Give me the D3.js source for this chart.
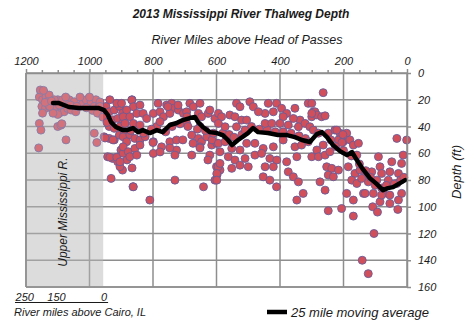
<!DOCTYPE html>
<html><head><meta charset="utf-8">
<script src="https://cdn.jsdelivr.net/npm/d3@7"></script>
<style>
body{margin:0;background:#fff;}
svg{display:block;font-family:"Liberation Sans",Arial,sans-serif;}
</style></head>
<body><svg id="c" width="474" height="335"></svg>
<script>
const xTicks = [1200,1000,800,600,400,200,0];
const xMinorTicks = [1150,1100,1050,950,900,850,750,700,650,550,500,450,350,300,250,150,100,50];
const yTicks = [0,20,40,60,80,100,120,140,160];
const cairoTicks = [250,150,0];
const cairoZeroMile = 954;
const upperMissRange = [1200,957];

// scatter points: [river mile above Head of Passes, thalweg depth ft]
const points = [
[1153,14],[1142,15],[1158,18],[1148,20],[1137,18],[1127,16.5],[1132,21.5],[1150,25],[1139,26.5],[1127,25],[1116,27.7],[1106,26.5],[1095,30],[1080,29],[1069,26.5],[1058,27.7],[1043,29],[1032,25],[1022,22.7],[1011,20],[995,21.5],[980,20],[985,25],[969,24],[964,27.7],[948,25],[1064,20],[1048,21.5],[1074,22.7],[1095,24],[1100,20],[1111,20],[1158,37.7],[1153,42.7],[1100,40],[1090,39],[1074,50],[1160,56],[985,45],[977,52],[1155,12.7],[1145,13],[1085,20],[1075,18],[1030,18],[1000,18],[967,21.7],[1100,31],[1087,38],[1115,30],[1125,25],[1148,30],[1140,22],[1120,21],[1060,24],[1040,25],[1010,26],[990,28],[975,30],
[938,29],[922,27.7],[906,25],[896,30],[943,34],[927,35],[911,34],[896,37.7],[938,40],[922,41.4],[954,47.7],[938,48.9],[922,50],[906,46.4],[890,45],[943,62.6],[927,63.9],[911,66.4],[932,78.8],[901,57.6],[896,72.6],[863,85],[810,95],[936,20],[914,22.7],[866,20],[967,25],[958,33],[945,37],[951,48.6],[926,50],[936,63],[914,63],[894,60],[882,65],[904,70],[866,71],
[899,22.7],[867,20.2],[862,25.2],[841,24],[883,27.7],[894,32.7],[873,32.7],[851,30.2],[831,30.2],[820,34],[799,30.2],[778,29],[757,24],[741,22.7],[736,26.4],[767,32.7],[747,30.2],[720,27.7],[704,30.2],[684,22.7],[673,25.2],[652,22.7],[657,30.2],[694,29],[647,32.7],[626,30.2],[605,34],[621,27.7],[594,30.2],
[904,40],[888,37.7],[862,37.7],[841,39],[788,40],[778,36.4],[694,37.7],[652,40],
[894,47.7],[873,46.4],[883,51.4],[857,48.9],[841,50.1],[894,55.2],[878,58.9],[857,56.4],[841,53.9],[825,47.7],[799,51.4],[773,55.2],[747,51.4],[726,50.1],[678,46.4],[657,48.9],[647,51.4],[631,47.7],[615,53.9],[599,52.6],[652,55.2],[678,61.4],[621,61.4],
[904,66.4],[873,62.6],[851,61.4],[799,60.1],[726,57.6],[731,80.1],[862,85.1],[641,85.1],[605,80.1],[589,72.6],[600,70],[598,76],
[784,22.7],[753,25.2],[721,24],[693,32.7],[800,52],[778,59],[747,56],[706,50],[674,52.6],[652,56],[731,61.4],[614,50],[627,65],[595,70],
[870,43],[830,45],[805,42],[760,44],[740,40],[715,38],[690,40],[660,42],[635,43],[610,45],
[580,45],[560,46],[545,48],[520,46],[490,40],[465,42],[440,42],[415,44],[390,44],[365,45],[340,47],[320,49],
[537,22.7],[526,25.2],[495,21.5],[484,25.2],[437,22.7],[411,22.7],[447,30.2],[468,29],[421,29],[395,26.4],[379,30.2],[353,26.4],[311,22.7],[295,29],[300,32.7],[337,35.2],[358,34],[390,32.7],[558,31.4],[584,32.7],[542,32.7],[521,35.2],[505,35.2],[594,37.7],
[447,37.7],[426,37.7],[400,37.7],[374,38.9],[342,40.2],[321,37.7],[573,40.2],[537,40.2],[510,42.7],
[594,52.6],[573,51.4],[552,56.4],[526,57.6],[505,52.6],[479,52.6],[453,56.4],[421,55.2],[390,50.1],[353,55.2],[332,53.9],[311,51.4],[589,58.9],[563,62.6],[542,65.1],[510,63.9],[479,61.4],[458,60.1],[432,63.9],[410,65.1],[379,66.4],[347,62.6],[589,67.6],[599,75.1],[552,71.3],[526,68.9],[500,70.1],[447,70.1],[421,70.1],[453,77.6],[432,80.1],[374,73.9],[358,77.6],[342,81.4],[411,85.1],[327,90],[599,80.1],[347,95],
[264,14.7],[300,22.7],[290,29],[284,31.4],[269,32.7],[258,32],[306,40.2],[295,42.7],[279,45],[248,45],[227,42.7],[211,45],[190,45],[216,50],[201,51.4],[180,50],[169,53.9],[153,52.6],[32,48.9],[1,50.1],[264,53.9],[284,57.6],[300,62.6],[279,62.6],[258,61.4],[243,58.9],[158,61.4],[90,62.6],[12,61.4],[48,66.4],[17,67.6],[253,70.1],[237,71.3],[216,72.6],[248,76.3],[232,77.6],[185,70.1],[164,75.1],[148,72.6],[132,75.1],[111,73.9],[85,70.1],[80,75.1],[54,73.9],[27,75.1],[174,80.1],[158,82.6],[122,81.4],[143,78.8],[95,80.1],[59,80.1],[32,82.6],[274,81.4],[258,87.6],[190,90],[137,90],[106,90],[74,90],[54,91.3],[17,90],[169,95],[206,101.3],[85,96.3],[27,95],[300,30.2],
[80,91.3],[54,97.5],[248,103],[169,107],[108,100],[93,104],[29,102],[104,120],[141,140],[122,150],[132,90],
[221,42.7],[202,46],[205,52],[240,50],[225,55],[200,58],[175,62],[150,68],[130,73],[115,78],[100,84],[80,86],[65,84],[40,83],[20,80],[10,78]
];

// 25 mile moving average
const avgMiles = [1115,1096,1065,1033,1002,970,954,942,932,917,895,882,863,847,832,810,788,769,747,725,706,684,668,658,643,621,599,580,564,551,532,501,485,469,438,406,378,353,331,306,284,268,252,233,211,189,173,158,139,117,95,76,60,44,22,6];
const avgDepths = [22.5,22.5,25.4,26.2,26.2,26.2,27.7,31.4,36.7,40.4,42.7,42.7,41.2,44.2,42.7,44.9,42.7,44.2,38.9,37.4,35.2,33.7,32.9,36.7,40.4,44.2,44.9,46.4,50.1,53.9,50.1,44.9,41.2,44.2,44.9,46.4,46.4,47.9,50.1,51.6,45.7,44.2,47.9,53.9,58.4,61.4,59.1,65.1,71.9,78.6,83.1,87.6,86.1,85.3,82.3,80.1];

const svg = d3.select("#c");
const x = d3.scaleLinear().domain([1200,0]).range([26,407]);
const y = d3.scaleLinear().domain([0,160]).range([73,287]);
const textCol = "#1a1a1a", gridCol = "#8e8e8e";

// shaded Upper Mississippi region
svg.append("rect")
  .attr("x", x(upperMissRange[0])).attr("y", y(0))
  .attr("width", x(upperMissRange[1]) - x(upperMissRange[0]))
  .attr("height", y(160) - y(0))
  .attr("fill", "#dcdcdc");

// grid
svg.append("g").selectAll("line").data(xTicks).join("line")
  .attr("x1", d => x(d)).attr("x2", d => x(d))
  .attr("y1", y(0)).attr("y2", y(160))
  .attr("stroke", gridCol).attr("stroke-width", 1.5);
svg.append("g").selectAll("line").data(yTicks).join("line")
  .attr("x1", x(1200)).attr("x2", x(0))
  .attr("y1", d => y(d)).attr("y2", d => y(d))
  .attr("stroke", gridCol).attr("stroke-width", 1.5);

// points
svg.append("g").selectAll("circle").data(points).join("circle")
  .attr("cx", d => x(d[0])).attr("cy", d => y(d[1])).attr("r", 4)
  .attr("fill", "#d04f5b").attr("stroke", "#6a5c98").attr("stroke-width", 0.9);

// fade points in shaded region slightly
svg.append("rect")
  .attr("x", x(upperMissRange[0])).attr("y", y(0))
  .attr("width", x(upperMissRange[1]) - x(upperMissRange[0]))
  .attr("height", y(160) - y(0))
  .attr("fill", "#dcdcdc").attr("opacity", 0.25);

// moving average
const avgData = avgMiles.map((m,i) => [m, avgDepths[i]]);
svg.append("path").datum(avgData)
  .attr("d", d3.line().x(d => x(d[0])).y(d => y(d[1])))
  .attr("fill", "none").attr("stroke", "#000").attr("stroke-width", 4.5)
  .attr("stroke-linejoin", "round").attr("stroke-linecap", "round");

// top axis
svg.append("g").attr("transform", `translate(0,${y(0)})`)
  .call(d3.axisTop(x).tickValues(xTicks).tickFormat(d3.format("d")).tickSize(4).tickSizeOuter(0).tickPadding(4));
svg.append("g").attr("transform", `translate(0,${y(0)})`)
  .call(d3.axisTop(x).tickValues(xMinorTicks).tickSize(3).tickSizeOuter(0).tickFormat(""))
  .call(g => g.select(".domain").remove());
// right axis
svg.append("g").attr("transform", `translate(${x(0)},0)`)
  .call(d3.axisRight(y).tickValues(yTicks).tickFormat(d3.format("d")).tickSize(4).tickSizeOuter(0).tickPadding(7));
svg.selectAll(".tick line, .domain").attr("stroke", gridCol).attr("stroke-width", 1.5);
svg.selectAll(".tick text").attr("fill", textCol).style("font-size", "11px")
  .style("font-style", "italic").style("font-family", '"Liberation Sans",Arial,sans-serif');

// left & bottom frame
svg.append("line").attr("x1", x(1200)).attr("x2", x(1200)).attr("y1", y(0)).attr("y2", y(160))
  .attr("stroke", gridCol).attr("stroke-width", 1.5);
svg.append("line").attr("x1", x(1200)).attr("x2", x(0)).attr("y1", y(160)).attr("y2", y(160))
  .attr("stroke", gridCol).attr("stroke-width", 1.5);

// titles
svg.append("text").attr("x", 241).attr("y", 18).attr("text-anchor", "middle")
  .style("font-size", "12px").style("font-weight", "bold").style("font-style", "italic")
  .attr("fill", textCol).text("2013 Mississippi River Thalweg Depth");
svg.append("text").attr("x", 247).attr("y", 44).attr("text-anchor", "middle")
  .style("font-size", "12.5px").style("font-style", "italic")
  .attr("fill", textCol).text("River Miles above Head of Passes");
svg.append("text").attr("transform", "translate(461,172) rotate(-90)").attr("text-anchor", "middle")
  .style("font-size", "13px").style("font-style", "italic")
  .attr("fill", textCol).text("Depth (ft)");
svg.append("text").attr("transform", `translate(67,${y(104)}) rotate(-90)`).attr("text-anchor", "middle")
  .style("font-size", "12px").style("font-style", "italic")
  .attr("fill", textCol).text("Upper Mississippi R.");

// Cairo secondary scale
const cx = d => x(cairoZeroMile + d);
svg.append("g").selectAll("text").data(cairoTicks).join("text")
  .attr("x", d => cx(d)).attr("y", 300.5).attr("text-anchor", "middle")
  .style("font-size", "11px").style("font-style", "italic").attr("fill", textCol)
  .text(d => d);
svg.append("line").attr("x1", 15).attr("x2", cx(0) + 4).attr("y1", 302.5).attr("y2", 302.5)
  .attr("stroke", textCol).attr("stroke-width", 1);
svg.append("text").attr("x", 14).attr("y", 316)
  .style("font-size", "11px").style("font-style", "italic").attr("fill", textCol)
  .text("River miles above Cairo, IL");

// legend
svg.append("line").attr("x1", 267).attr("x2", 287).attr("y1", 312).attr("y2", 312)
  .attr("stroke", "#000").attr("stroke-width", 4.5);
svg.append("text").attr("x", 291).attr("y", 317)
  .style("font-size", "13px").style("font-style", "italic").attr("fill", textCol)
  .text("25 mile moving average");
</script></body></html>
